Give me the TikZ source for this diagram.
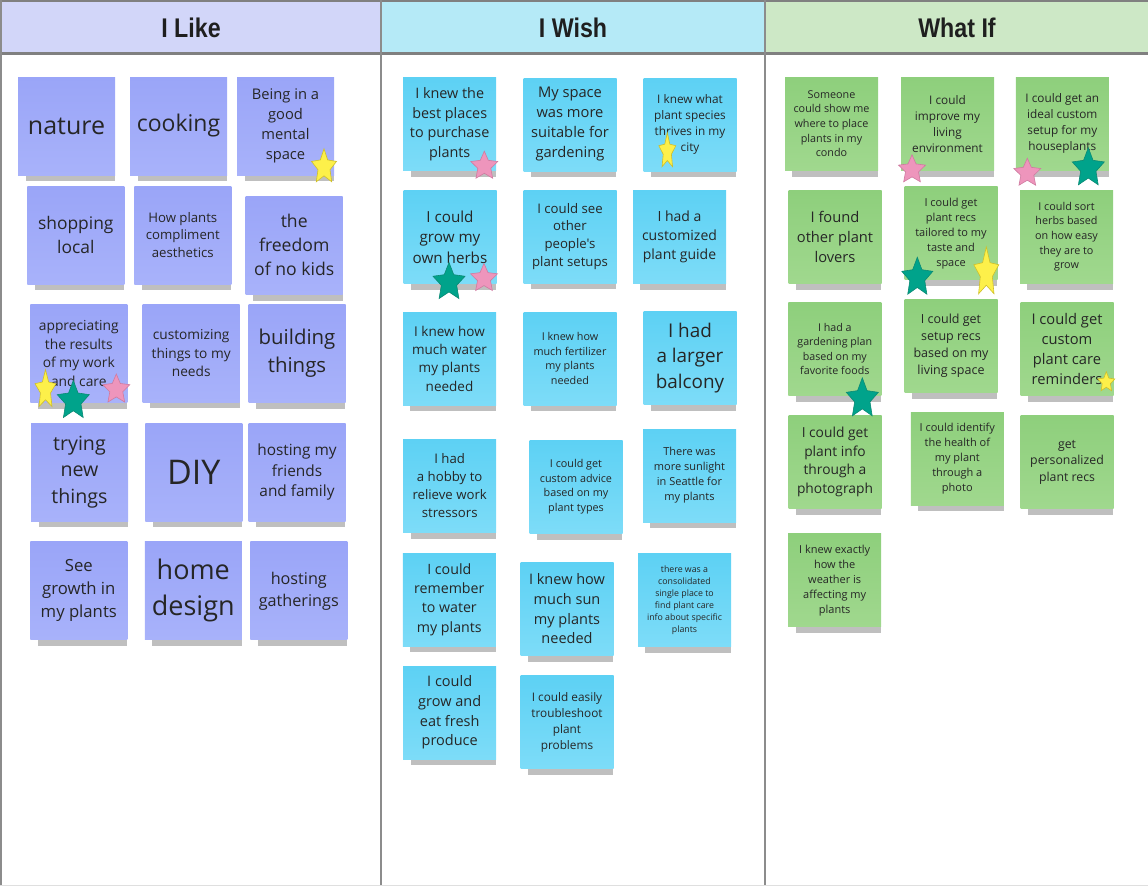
\documentclass[tikz,border=0pt]{standalone}
\usepackage{fontspec}
\newfontfamily\notefont{Open Sans}
\newfontfamily\headfont[FakeStretch=0.86]{Liberation Sans}
\usetikzlibrary{shadows}
\definecolor{likehead}{HTML}{D2D6F9}
\definecolor{wishhead}{HTML}{B5EAF7}
\definecolor{ifhead}{HTML}{CDE8C6}
\definecolor{liketop}{HTML}{9AA5F8}
\definecolor{likebot}{HTML}{A8B2FA}
\definecolor{wishtop}{HTML}{5DD1F4}
\definecolor{wishbot}{HTML}{7DDCF8}
\definecolor{iftop}{HTML}{8ECF7C}
\definecolor{ifbot}{HTML}{A0D88E}
\definecolor{inktext}{HTML}{262626}
\definecolor{staryel}{HTML}{FDF04A}
\definecolor{staryeld}{HTML}{CFC02A}
\definecolor{stargrn}{HTML}{00A38B}
\definecolor{stargrnd}{HTML}{0B8A74}
\definecolor{starpnk}{HTML}{EE95BC}
\definecolor{starpnkd}{HTML}{CF7BA0}
\newcommand\sz[1]{\fontsize{#1}{#1}\selectfont\baselineskip=1.36\baselineskip}
% voting star: centre x, centre y, width, height, fill, border
\newcommand\vote[6]{%
  \filldraw[fill=#5, draw=#6, line width=0.6pt] plot[samples at={0,...,9}, variable=\k]
    ({#1+#3/1.902*(0.74+0.26*cos(180*\k))*cos(90+36*\k)},
     {#2+0.0528*#4-#4/1.809*(0.74+0.26*cos(180*\k))*sin(90+36*\k)}) -- cycle;}

\begin{document}
\begin{tikzpicture}[x=1pt, y=-1pt,
    note/.style={rectangle, inner sep=0pt, align=center, text=inktext,
      font=\notefont\sz{#1},
      drop shadow={shadow xshift=4pt, shadow yshift=-11pt, shadow scale=0.92, opacity=0.25, fill=black}},
    like/.style={note=#1, minimum width=97pt, minimum height=98pt, top color=liketop, bottom color=likebot},
    wish/.style={note=#1, minimum width=93pt, minimum height=93pt, top color=wishtop, bottom color=wishbot},
    whatif/.style={note=#1, minimum width=93pt, minimum height=93pt, top color=iftop, bottom color=ifbot},
    head/.style={font=\headfont\bfseries\fontsize{27}{30}\selectfont, text=black!88}]
    \useasboundingbox (0,0) rectangle (1148,886);
    % ---------------- board: header bar and column rules
    \fill[likehead] (0,0) rectangle (381,53);
    \fill[wishhead] (381,0) rectangle (765,53);
    \fill[ifhead] (765,0) rectangle (1148,53);
    \node[head] (hlike) at (191,28) {I Like};
    \node[head] (hwish) at (573,28) {I Wish};
    \node[head] (hif) at (957,28) {What If};
    \draw[gray, line width=1.5pt] (0,0.75) -- (1148,0.75);
    \draw[gray, line width=3pt] (0,53.5) -- (1148,53.5);
    \draw[gray!90, line width=2pt] (1,0) -- (1,886);
    \draw[gray!90, line width=2pt] (381,0) -- (381,886);
    \draw[gray!90, line width=2pt] (765,0) -- (765,886);
    \draw[gray!25] (0,885.5) -- (1148,885.5);
    % ---------------- I Like
    \node[like=25] (nature) at (66.5,126) {nature};
    \node[like=23] (cooking) at (178.5,126) {cooking};
    \node[like=14.7] (mental) at (285.5,126) {Being in a\\good\\mental\\space};
    \node[like=17.4] (shopping) at (75.8,235) {shopping\\local};
    \node[like=13.2] (aesthetics) at (182.8,235) {How plants\\compliment\\aesthetics};
    \node[like=17.6] (freedom) at (294.2,245.3) {the\\freedom\\of no kids};
    \node[like=13.8] (results) at (78.8,353.5) {appreciating\\the results\\of my work\\and care};
    \node[like=13.7] (customizing) at (191.2,353.2) {customizing\\things to my\\needs};
    \node[like=20.4] (building) at (297,353.3) {building\\things};
    \node[like=19.6] (trying) at (79.5,472) {trying\\new\\things};
    \node[like=34] (diy) at (193.8,472) {DIY};
    \node[like=15.4] (hosting) at (297,472) {hosting my\\friends\\and family};
    \node[like=16.7] (growth) at (78.8,590.5) {See\\growth in\\my plants};
    \node[like=27] (homedesign) at (193.3,590.5) {home\\design};
    \node[like=16.2] (gatherings) at (298.8,590.8) {hosting\\gatherings};
    \vote{324}{165.3}{25}{33}{staryel}{staryeld}
    \vote{45.5}{388}{21}{37}{staryel}{staryeld}
    \vote{73.3}{399}{32}{37}{stargrn}{stargrnd}
    \vote{116.3}{388}{27}{28}{starpnk}{starpnkd}
    % ---------------- I Wish
    \node[wish=14.4] (places) at (449.7,124.3) {I knew the\\best places\\to purchase\\plants};
    \node[wish=14.7] (space) at (570,124.5) {My space\\was more\\suitable for\\gardening};
    \node[wish=11.8] (species) at (690,124.5) {I knew what\\plant species\\thrives in my\\city};
    \node[wish=15.2] (herbs) at (450,237) {I could\\grow my\\own herbs};
    \node[wish=13.2] (setups) at (570,236.5) {I could see\\other\\people's\\plant setups};
    \node[wish=14] (guide) at (679.5,237) {I had a\\customized\\plant guide};
    \node[wish=13.5] (water) at (449.5,358.5) {I knew how\\much water\\my plants\\needed};
    \node[wish=10.8] (fertilizer) at (570,358.5) {I knew how\\much fertilizer\\my plants\\needed};
    \node[wish=18.9] (balcony) at (690,358) {I had\\a larger\\balcony};
    \node[wish=13.2] (hobby) at (449.7,485.7) {I had\\a hobby to\\relieve work\\stressors};
    \node[wish=10.8] (advice) at (576,486.7) {I could get\\custom advice\\based on my\\plant types};
    \node[wish=11] (sunlight) at (689.5,475.5) {There was\\more sunlight\\in Seattle for\\my plants};
    \node[wish=14.2] (remember) at (449.3,599.5) {I could\\remember\\to water\\my plants};
    \node[wish=14.5] (sun) at (567,608.8) {I knew how\\much sun\\my plants\\needed};
    \node[wish=8.8] (consolidated) at (684.5,600) {there was a\\consolidated\\single place to\\find plant care\\info about specific\\plants};
    \node[wish=14.5] (produce) at (449.7,712.5) {I could\\grow and\\eat fresh\\produce};
    \node[wish=11.8] (troubleshoot) at (567,722) {I could easily\\troubleshoot\\plant\\problems};
    \vote{484.3}{164.7}{27}{27}{starpnk}{starpnkd}
    \vote{667.3}{149.7}{17}{34}{staryel}{staryeld}
    \vote{449}{280.5}{32}{36}{stargrn}{stargrnd}
    \vote{484}{277}{27}{27}{starpnk}{starpnkd}
    % ---------------- What If
    \node[whatif=10.8] (someone) at (831.5,123.7) {Someone\\could show me\\where to place\\plants in my\\condo};
    \node[whatif=11.8] (improve) at (947.5,124.3) {I could\\improve my\\living\\environment};
    \node[whatif=11.8] (ideal) at (1062.3,123.7) {I could get an\\ideal custom\\setup for my\\houseplants};
    \node[whatif=14.7] (lovers) at (835,237) {I found\\other plant\\lovers};
    \node[whatif=11] (tailored) at (951,233.3) {I could get\\plant recs\\tailored to my\\taste and\\space};
    \node[whatif=10.8] (sort) at (1066.5,236.7) {I could sort\\herbs based\\on how easy\\they are to\\grow};
    \node[whatif=10.7] (gardening) at (834.8,349) {I had a\\gardening plan\\based on my\\favorite foods};
    \node[whatif=12.5] (setuprecs) at (951,345.7) {I could get\\setup recs\\based on my\\living space};
    \node[whatif=14.7] (reminders) at (1067,349) {I could get\\custom\\plant care\\reminders};
    \node[whatif=13.8] (photograph) at (835,461.8) {I could get\\plant info\\through a\\photograph};
    \node[whatif=11] (identify) at (957.3,458.5) {I could identify\\the health of\\my plant\\through a\\photo};
    \node[whatif=12.3] (personalized) at (1067,462.3) {get\\personalized\\plant recs};
    \node[whatif=11] (weather) at (834.7,580.3) {I knew exactly\\how the\\weather is\\affecting my\\plants};
    \vote{912}{168.3}{27}{27}{starpnk}{starpnkd}
    \vote{1027.3}{171.7}{27}{27}{starpnk}{starpnkd}
    \vote{1088.3}{166.3}{32}{37}{stargrn}{stargrnd}
    \vote{917.3}{275.7}{31}{37}{stargrn}{stargrnd}
    \vote{986.3}{270.3}{25}{47}{staryel}{staryeld}
    \vote{862.3}{396.8}{32}{38}{stargrn}{stargrnd}
    \vote{1106.3}{381.2}{17}{19}{staryel}{staryeld}
\end{tikzpicture}
\end{document}
